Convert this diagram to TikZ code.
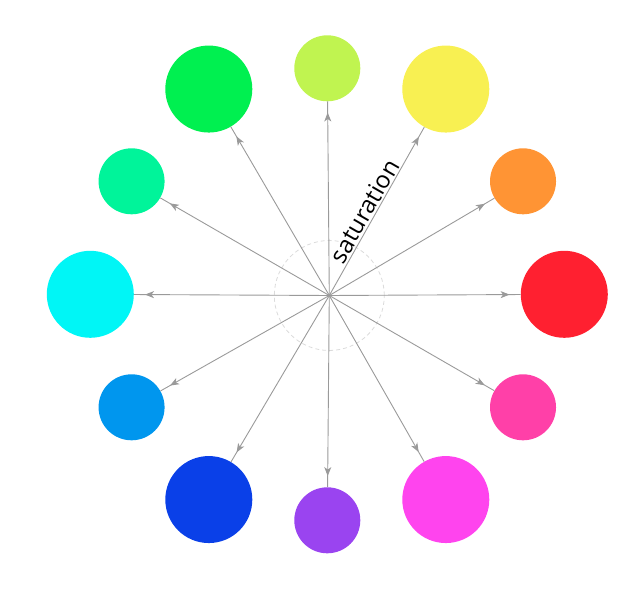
\documentclass[tikz,border=0pt]{standalone}
\usepackage{fontspec}
\setsansfont{Open Sans}
\usepackage{tikz}
\usetikzlibrary{arrows.meta,decorations.markings,calc}
\usepackage{xcolor}
\definecolor{spokegray}{HTML}{9A9A9A}
\definecolor{hueRed}{HTML}{FF2030}
\definecolor{hueOrange}{HTML}{FF9434}
\definecolor{hueYellow}{HTML}{F8F052}
\definecolor{hueLime}{HTML}{C0F450}
\definecolor{hueGreen}{HTML}{00F050}
\definecolor{hueTeal}{HTML}{00F49A}
\definecolor{hueCyan}{HTML}{00F6F6}
\definecolor{hueSky}{HTML}{0096EE}
\definecolor{hueBlue}{HTML}{0A40E8}
\definecolor{huePurple}{HTML}{9A44F0}
\definecolor{hueMagenta}{HTML}{FF44EE}
\definecolor{huePink}{HTML}{FF40A8}

\begin{document}
\begin{tikzpicture}[x=1pt,y=1pt,font=\sffamily,
  bigdot/.style={circle,minimum size=87pt,inner sep=0pt},
  smalldot/.style={circle,minimum size=66pt,inner sep=0pt},
  spoke/.style={draw=spokegray,line width=0.9pt,postaction={decorate},
    decoration={markings,mark=at position -11pt with {\arrow[spokegray]{Stealth[length=9pt,width=7pt,inset=2.5pt]}}}}]
\useasboundingbox (-327.3,-305.7) rectangle (312.7,294.3);
\coordinate (hub) at (2,-1.2);
\draw[gray!28,line width=0.8pt,dash pattern=on 4pt off 3pt] (hub) circle (55);
% colour dots
\node[bigdot,fill=hueRed] (red) at (0:237) {};
\node[smalldot,fill=hueOrange] (orange) at (30:226) {};
\node[bigdot,fill=hueYellow] (yellow) at (60:237) {};
\node[smalldot,fill=hueLime] (lime) at (90:226) {};
\node[bigdot,fill=hueGreen] (green) at (120:237) {};
\node[smalldot,fill=hueTeal] (teal) at (150:226) {};
\node[bigdot,fill=hueCyan] (cyan) at (180:237) {};
\node[smalldot,fill=hueSky] (sky) at (210:226) {};
\node[bigdot,fill=hueBlue] (blue) at (240:237) {};
\node[smalldot,fill=huePurple] (purple) at (270:226) {};
\node[bigdot,fill=hueMagenta] (magenta) at (300:237) {};
\node[smalldot,fill=huePink] (pink) at (330:226) {};
% spokes
\draw[spoke] (hub) -- (red);
\draw[spoke] (hub) -- (orange);
\draw[spoke] (hub) -- (yellow);
\draw[spoke] (hub) -- (lime);
\draw[spoke] (hub) -- (green);
\draw[spoke] (hub) -- (teal);
\draw[spoke] (hub) -- (cyan);
\draw[spoke] (hub) -- (sky);
\draw[spoke] (hub) -- (blue);
\draw[spoke] (hub) -- (purple);
\draw[spoke] (hub) -- (magenta);
\draw[spoke] (hub) -- (pink);
\node[rotate=60,anchor=base west,inner sep=0pt,font=\sffamily\fontsize{24}{28}\selectfont]
  (sat) at ($(hub)+(60:33)+(150:3)$) {saturation};
\end{tikzpicture}
\end{document}
